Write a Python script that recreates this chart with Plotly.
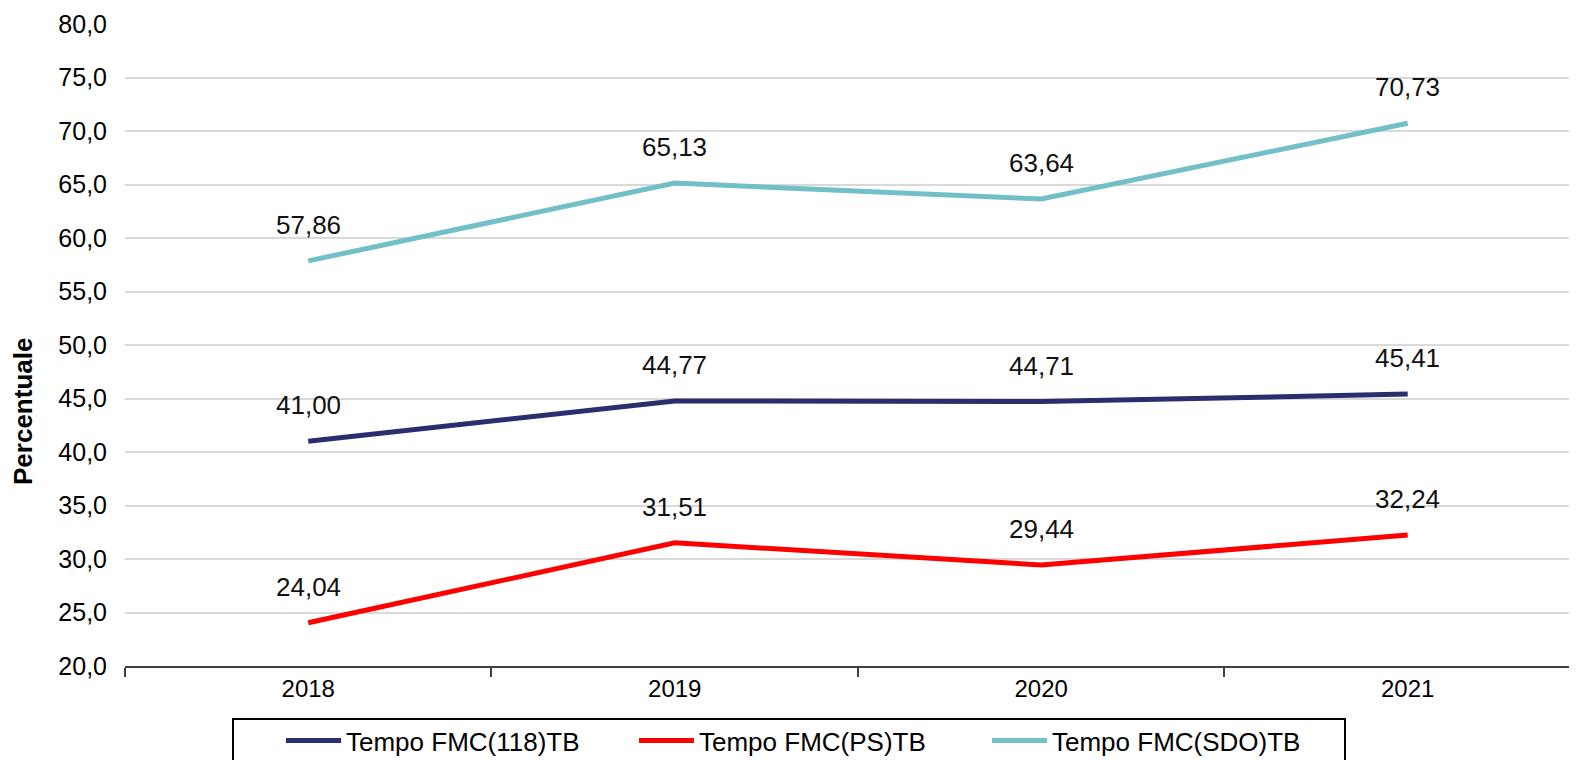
import plotly.graph_objects as go

years = ["2018", "2019", "2020", "2021"]
series_names = ["Tempo FMC(118)TB", "Tempo FMC(PS)TB", "Tempo FMC(SDO)TB"]
v118 = [41.00, 44.77, 44.71, 45.41]
vps = [24.04, 31.51, 29.44, 32.24]
vsdo = [57.86, 65.13, 63.64, 70.73]
colors = ["#2B2D6E", "#FF0000", "#72C0C7"]
y_ticks = [20, 25, 30, 35, 40, 45, 50, 55, 60, 65, 70, 75, 80]
y_title = "Percentuale"

# figure is placed at an 8px page offset, so sizes are chosen to fit the window
W, H = 1569, 752
ML, MR, MT, MB = 117, 0, 16, 94
PW, PH = W - ML - MR, H - MT - MB
FONT = "Liberation Sans, Arial, Helvetica, sans-serif"


def px_x(fx):
    return (fx - ML) / PW


def px_y(fy):
    return 1 - (fy - MT) / PH


fig = go.Figure()
for name, vals, col in zip(series_names, [v118, vps, vsdo], colors):
    fig.add_trace(go.Scatter(x=years, y=vals, mode="lines", name=name,
                             line=dict(color=col, width=5)))
    for i, yy in enumerate(vals):
        fig.add_annotation(x=i, y=yy, xref="x", yref="y",
                           text=f"{yy:.2f}".replace(".", ","),
                           showarrow=False, yshift=36,
                           font=dict(family=FONT, size=26, color="#111111"))

# y-axis title as rotated text
fig.add_annotation(xref="paper", yref="paper", x=px_x(15), y=px_y(404),
                   text=f"<b>{y_title}</b>", textangle=-90, showarrow=False,
                   xanchor="center", yanchor="middle",
                   font=dict(family=FONT, size=26, color="#000000"))

# legend frame
fig.add_shape(type="rect", xref="paper", yref="paper",
              x0=px_x(225), x1=px_x(1337), y0=px_y(711), y1=px_y(790),
              line=dict(color="#000000", width=2), fillcolor="rgba(0,0,0,0)", layer="above")

fig.update_layout(
    width=W, height=H,
    margin=dict(l=ML, r=MR, t=MT, b=MB, autoexpand=False),
    plot_bgcolor="white", paper_bgcolor="white",
    separators=",.",
    showlegend=True,
    legend=dict(orientation="h", x=px_x(273), y=px_y(709),
                xanchor="left", yanchor="top",
                borderwidth=0, bgcolor="rgba(0,0,0,0)",
                font=dict(family=FONT, size=26, color="#000000"),
                entrywidth=283, entrywidthmode="pixels", itemwidth=55),
    xaxis=dict(type="category", range=[-0.5, 3.462], showgrid=False,
               showline=True, linecolor="#404040", linewidth=2,
               ticks="outside", tickson="boundaries", ticklen=9, tickwidth=2, tickcolor="#404040",
               tickfont=dict(family=FONT, size=24, color="#000000"),
               fixedrange=True),
    yaxis=dict(range=[20, 80], tickvals=y_ticks, tickformat=".1f",
               showgrid=True, gridcolor="#D9D9D9", gridwidth=2,
               zeroline=False, showline=False, ticks="", ticklabelstandoff=17,
               tickfont=dict(family=FONT, size=25, color="#000000")),
)

fig.write_html("out.html")
